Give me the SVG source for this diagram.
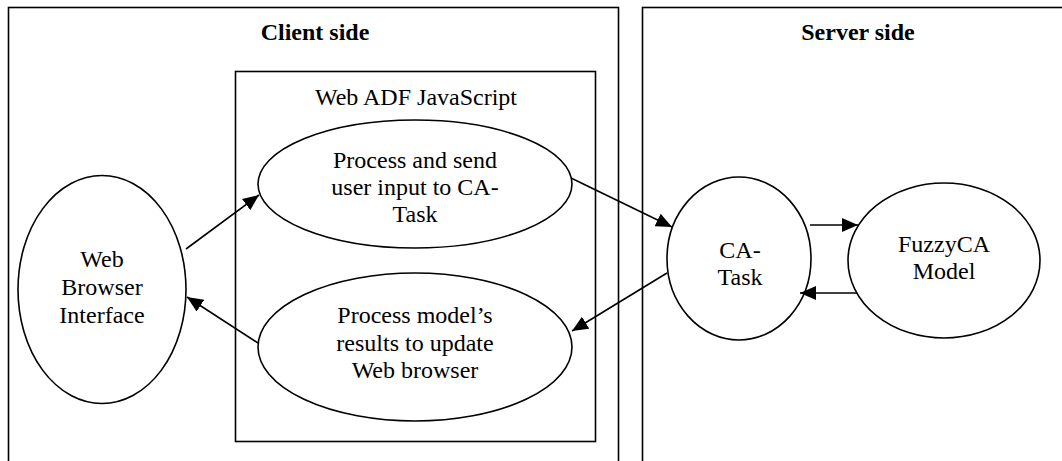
<svg xmlns="http://www.w3.org/2000/svg" width="1062" height="461" viewBox="0 0 1062 461">
  <style>
    .box { fill: none; stroke: #000; stroke-width: 1.6; }
    .node { fill: #fff; stroke: #000; stroke-width: 1.6; }
    .edge { fill: none; stroke: #000; stroke-width: 1.6; marker-end: url(#arrow); }
    text { font-family: "Liberation Serif", "Times New Roman", serif; font-size: 24px; fill: #000; text-anchor: middle; }
    .title { font-weight: bold; }
  </style>
  <defs>
    <marker id="arrow" viewBox="0 0 16 14" refX="16" refY="7" markerWidth="16" markerHeight="14" markerUnits="userSpaceOnUse" orient="auto">
      <path d="M0,0 L16,7 L0,14 Z" fill="#000"/>
    </marker>
  </defs>
  <rect width="1062" height="461" fill="#fff"/>

  <!-- client side frame (runs past the bottom edge) -->
  <g id="client-side">
    <rect class="box" x="8.5" y="7.5" width="610" height="480"/>
    <text class="title" x="315" y="40">Client side</text>
  </g>

  <!-- server side frame (runs past the right and bottom edges) -->
  <g id="server-side">
    <rect class="box" x="642.5" y="7.5" width="440" height="480"/>
    <text class="title" x="858" y="40">Server side</text>
  </g>

  <!-- JavaScript layer inside the client -->
  <g id="web-adf">
    <rect class="box" x="235.5" y="71.5" width="360" height="370"/>
    <text x="416" y="105">Web ADF JavaScript</text>
  </g>

  <g id="web-browser">
    <ellipse class="node" cx="102" cy="289.5" rx="84" ry="114"/>
    <text x="102" y="267">Web</text>
    <text x="102" y="295">Browser</text>
    <text x="102" y="323">Interface</text>
  </g>

  <g id="send-input">
    <ellipse class="node" cx="415" cy="184" rx="157" ry="64"/>
    <text x="415" y="168">Process and send</text>
    <text x="415" y="195">user input to CA-</text>
    <text x="415" y="222">Task</text>
  </g>

  <g id="process-results">
    <ellipse class="node" cx="415" cy="347" rx="157" ry="74"/>
    <text x="415" y="323">Process model’s</text>
    <text x="415" y="351">results to update</text>
    <text x="415" y="378">Web browser</text>
  </g>

  <g id="ca-task">
    <ellipse class="node" cx="739" cy="258.5" rx="72" ry="81.5"/>
    <text x="740" y="258">CA-</text>
    <text x="740" y="285">Task</text>
  </g>

  <g id="fuzzyca-model">
    <ellipse class="node" cx="944" cy="260.5" rx="96" ry="77.5"/>
    <text x="944" y="252">FuzzyCA</text>
    <text x="944" y="279">Model</text>
  </g>

  <g id="connectors">
    <line class="edge" x1="186" y1="249" x2="259" y2="195"/>
    <line class="edge" x1="258" y1="343" x2="187" y2="297"/>
    <line class="edge" x1="571" y1="178" x2="672" y2="227"/>
    <line class="edge" x1="667" y1="273" x2="572" y2="331"/>
    <line class="edge" x1="810" y1="225" x2="858" y2="225"/>
    <line class="edge" x1="857" y1="293" x2="800" y2="293"/>
  </g>
</svg>
